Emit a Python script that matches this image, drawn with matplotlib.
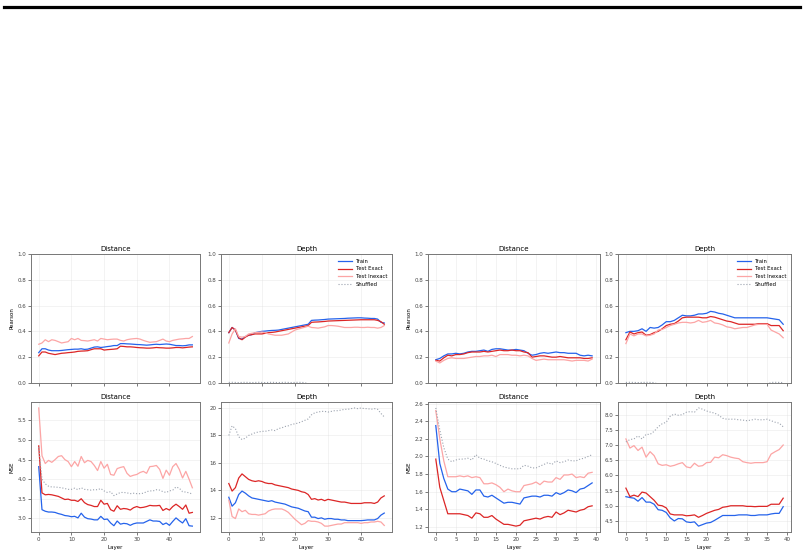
import numpy as np
import matplotlib
matplotlib.use("Agg")
import matplotlib.pyplot as plt
from matplotlib.lines import Line2D


# ---------------------------------------------------
# Data: model A (48 layers)
# ---------------------------------------------------

layers_a = list(range(48))

a_pearson_dist_train = [0.235, 0.265, 0.265, 0.255, 0.25, 0.25, 0.25, 0.252, 0.255, 0.258, 0.26, 0.262, 0.262, 0.265, 0.26, 0.262, 0.27, 0.278, 0.28, 0.275, 0.278, 0.282, 0.285, 0.29, 0.29, 0.305, 0.305, 0.303, 0.302, 0.3, 0.298, 0.297, 0.295, 0.293, 0.295, 0.298, 0.3, 0.298, 0.3, 0.302, 0.3, 0.295, 0.29, 0.29, 0.288, 0.29, 0.295, 0.295]
a_pearson_dist_exact = [0.21, 0.24, 0.24, 0.23, 0.225, 0.22, 0.225, 0.23, 0.232, 0.235, 0.237, 0.24, 0.245, 0.247, 0.248, 0.25, 0.258, 0.265, 0.265, 0.265, 0.255, 0.258, 0.26, 0.262, 0.265, 0.285, 0.283, 0.28, 0.28, 0.278, 0.275, 0.273, 0.272, 0.27, 0.27, 0.272, 0.275, 0.273, 0.272, 0.27, 0.27, 0.272, 0.275, 0.275, 0.272, 0.275, 0.278, 0.28]
a_pearson_dist_inexact = [0.30, 0.31, 0.335, 0.32, 0.335, 0.33, 0.32, 0.31, 0.315, 0.32, 0.345, 0.335, 0.345, 0.33, 0.328, 0.325, 0.33, 0.335, 0.325, 0.345, 0.34, 0.335, 0.338, 0.34, 0.34, 0.33, 0.325, 0.335, 0.34, 0.343, 0.345, 0.34, 0.33, 0.322, 0.315, 0.318, 0.32, 0.33, 0.34, 0.325, 0.32, 0.33, 0.335, 0.34, 0.342, 0.345, 0.345, 0.36]
a_pearson_dist_shuf = [-0.01, -0.012, -0.008, -0.01, -0.012, -0.01, -0.009, -0.011, -0.01, -0.012, -0.01, -0.011, -0.009, -0.01, -0.012, -0.01, -0.011, -0.01, -0.009, -0.01, -0.012, -0.01, -0.011, -0.01, -0.009, -0.01, -0.012, -0.01, -0.011, -0.01, -0.009, -0.01, -0.012, -0.01, -0.011, -0.01, -0.009, -0.01, -0.012, -0.01, -0.011, -0.01, -0.009, -0.01, -0.012, -0.01, -0.011, -0.01]

a_pearson_depth_train = [0.39, 0.43, 0.41, 0.345, 0.34, 0.36, 0.37, 0.375, 0.39, 0.395, 0.40, 0.402, 0.405, 0.407, 0.408, 0.41, 0.415, 0.42, 0.425, 0.43, 0.435, 0.44, 0.445, 0.45, 0.455, 0.485, 0.487, 0.488, 0.49, 0.492, 0.495, 0.496, 0.497, 0.498, 0.499, 0.50, 0.502, 0.503, 0.504, 0.505, 0.505, 0.503, 0.502, 0.50, 0.50, 0.495, 0.47, 0.465]
a_pearson_depth_exact = [0.39, 0.43, 0.41, 0.35, 0.335, 0.355, 0.37, 0.375, 0.38, 0.38, 0.38, 0.385, 0.39, 0.392, 0.395, 0.40, 0.405, 0.41, 0.415, 0.42, 0.425, 0.43, 0.435, 0.44, 0.445, 0.47, 0.472, 0.473, 0.475, 0.477, 0.48, 0.481, 0.482, 0.483, 0.484, 0.485, 0.486, 0.487, 0.488, 0.489, 0.49, 0.49, 0.49, 0.49, 0.49, 0.485, 0.475, 0.455]
a_pearson_depth_inexact = [0.31, 0.38, 0.42, 0.36, 0.355, 0.36, 0.38, 0.385, 0.39, 0.392, 0.395, 0.39, 0.38, 0.375, 0.37, 0.37, 0.37, 0.375, 0.38, 0.395, 0.41, 0.418, 0.425, 0.432, 0.44, 0.43, 0.428, 0.425, 0.43, 0.435, 0.445, 0.445, 0.443, 0.44, 0.435, 0.43, 0.43, 0.43, 0.432, 0.432, 0.43, 0.43, 0.432, 0.43, 0.43, 0.425, 0.43, 0.445]
a_pearson_depth_shuf = [0.004, 0.005, 0.004, 0.003, 0.004, 0.005, 0.004, 0.003, 0.004, 0.005, 0.004, 0.003, 0.004, 0.005, 0.004, 0.003, 0.004, 0.005, 0.004, 0.003, 0.004, 0.005, 0.004, 0.003, -0.01, -0.012, -0.01, -0.011, -0.01, -0.009, -0.01, -0.012, -0.01, -0.011, -0.01, -0.009, -0.01, -0.012, -0.01, -0.011, -0.01, -0.009, -0.01, -0.012, -0.01, -0.011, -0.01, -0.009]

a_mse_dist_train = [4.32, 3.22, 3.18, 3.16, 3.16, 3.15, 3.12, 3.10, 3.07, 3.06, 3.04, 3.05, 3.01, 3.13, 3.03, 2.99, 2.98, 2.96, 2.96, 3.05, 2.97, 2.98, 2.88, 2.81, 2.93, 2.85, 2.87, 2.86, 2.82, 2.86, 2.88, 2.88, 2.88, 2.92, 2.96, 2.93, 2.93, 2.92, 2.84, 2.88, 2.82, 2.92, 3.01, 2.94, 2.88, 2.99, 2.81, 2.80]
a_mse_dist_exact = [4.85, 3.65, 3.60, 3.61, 3.60, 3.58, 3.56, 3.52, 3.48, 3.49, 3.46, 3.46, 3.43, 3.50, 3.40, 3.35, 3.33, 3.30, 3.30, 3.46, 3.36, 3.38, 3.22, 3.18, 3.32, 3.23, 3.25, 3.24, 3.21, 3.27, 3.30, 3.27, 3.28, 3.30, 3.33, 3.32, 3.32, 3.33, 3.20, 3.25, 3.21, 3.30, 3.36, 3.30, 3.23, 3.34, 3.13, 3.15]
a_mse_dist_inexact = [5.82, 4.60, 4.40, 4.48, 4.43, 4.50, 4.58, 4.60, 4.50, 4.45, 4.32, 4.45, 4.33, 4.58, 4.42, 4.48, 4.45, 4.35, 4.22, 4.45, 4.28, 4.38, 4.12, 4.10, 4.27, 4.30, 4.32, 4.15, 4.07, 4.10, 4.12, 4.17, 4.20, 4.15, 4.32, 4.33, 4.35, 4.25, 4.02, 4.23, 4.10, 4.32, 4.40, 4.25, 4.03, 4.20, 4.00, 3.78]
a_mse_dist_shuf = [4.82, 4.00, 3.88, 3.82, 3.80, 3.80, 3.79, 3.78, 3.76, 3.74, 3.74, 3.77, 3.73, 3.78, 3.74, 3.73, 3.72, 3.73, 3.73, 3.76, 3.70, 3.66, 3.68, 3.58, 3.62, 3.66, 3.66, 3.65, 3.63, 3.64, 3.63, 3.63, 3.64, 3.68, 3.70, 3.70, 3.73, 3.72, 3.68, 3.66, 3.70, 3.72, 3.80, 3.77, 3.68, 3.67, 3.65, 3.62]

a_mse_depth_train = [13.5, 12.85, 13.1, 13.7, 13.95, 13.8, 13.6, 13.45, 13.4, 13.35, 13.3, 13.25, 13.2, 13.25, 13.15, 13.1, 13.05, 13.0, 12.9, 12.8, 12.75, 12.7, 12.6, 12.5, 12.45, 12.05, 12.05, 11.95, 12.0, 11.9, 11.95, 11.95, 11.9, 11.9, 11.85, 11.85, 11.8, 11.8, 11.8, 11.8, 11.8, 11.82, 11.85, 11.85, 11.85, 11.95, 12.2, 12.35]
a_mse_depth_exact = [14.5, 13.95, 14.2, 14.9, 15.2, 15.0, 14.8, 14.7, 14.65, 14.7, 14.65, 14.55, 14.5, 14.5, 14.4, 14.35, 14.3, 14.25, 14.2, 14.1, 14.05, 14.0, 13.9, 13.85, 13.7, 13.35, 13.4, 13.3, 13.35, 13.25, 13.35, 13.3, 13.25, 13.2, 13.15, 13.15, 13.1, 13.05, 13.05, 13.05, 13.05, 13.1, 13.1, 13.1, 13.05, 13.15, 13.45, 13.6]
a_mse_depth_inexact = [13.3, 12.1, 11.95, 12.65, 12.45, 12.55, 12.3, 12.25, 12.25, 12.2, 12.25, 12.3, 12.5, 12.6, 12.65, 12.65, 12.65, 12.55, 12.4, 12.15, 11.9, 11.7, 11.5, 11.6, 11.8, 11.75, 11.75, 11.7, 11.6, 11.4, 11.4, 11.45, 11.5, 11.55, 11.55, 11.65, 11.65, 11.65, 11.65, 11.65, 11.6, 11.65, 11.65, 11.7, 11.7, 11.75, 11.7, 11.45]
a_mse_depth_shuf = [18.0, 18.7, 18.5, 17.9, 17.7, 17.8, 18.0, 18.1, 18.2, 18.25, 18.3, 18.3, 18.35, 18.4, 18.35, 18.5, 18.55, 18.65, 18.7, 18.8, 18.85, 18.9, 19.0, 19.1, 19.2, 19.5, 19.65, 19.7, 19.75, 19.75, 19.7, 19.75, 19.8, 19.8, 19.85, 19.9, 19.9, 19.95, 20.0, 19.95, 20.0, 19.95, 19.95, 19.9, 19.95, 19.9, 19.6, 19.35]


# ---------------------------------------------------
# Data: model B (40 layers)
# ---------------------------------------------------

layers_b = list(range(40))

b_pearson_dist_train = [0.18, 0.19, 0.21, 0.225, 0.225, 0.23, 0.225, 0.23, 0.24, 0.245, 0.245, 0.25, 0.255, 0.245, 0.26, 0.265, 0.265, 0.26, 0.255, 0.255, 0.26, 0.255, 0.25, 0.23, 0.215, 0.22, 0.23, 0.235, 0.23, 0.235, 0.24, 0.235, 0.235, 0.23, 0.23, 0.23, 0.215, 0.21, 0.215, 0.21]
b_pearson_dist_exact = [0.175, 0.17, 0.195, 0.215, 0.21, 0.22, 0.22, 0.225, 0.235, 0.24, 0.24, 0.24, 0.245, 0.24, 0.245, 0.25, 0.255, 0.25, 0.25, 0.255, 0.25, 0.25, 0.24, 0.235, 0.20, 0.205, 0.21, 0.21, 0.205, 0.20, 0.20, 0.205, 0.20, 0.195, 0.195, 0.195, 0.195, 0.19, 0.19, 0.195]
b_pearson_dist_inexact = [0.17, 0.155, 0.175, 0.19, 0.195, 0.19, 0.19, 0.19, 0.195, 0.20, 0.205, 0.205, 0.21, 0.21, 0.215, 0.205, 0.22, 0.22, 0.22, 0.215, 0.215, 0.21, 0.215, 0.21, 0.19, 0.175, 0.18, 0.185, 0.18, 0.18, 0.18, 0.18, 0.18, 0.175, 0.17, 0.175, 0.175, 0.175, 0.17, 0.185]
b_pearson_dist_shuf = [-0.01, -0.012, -0.01, -0.011, -0.01, -0.009, -0.01, -0.012, -0.01, -0.011, -0.01, -0.009, -0.01, -0.012, -0.01, -0.011, -0.01, -0.009, -0.01, -0.012, -0.01, -0.011, -0.01, -0.009, -0.01, -0.012, -0.01, -0.011, -0.01, -0.009, -0.01, -0.012, -0.01, -0.011, -0.01, -0.009, -0.01, -0.012, -0.01, -0.011]

b_pearson_depth_train = [0.39, 0.40, 0.40, 0.405, 0.42, 0.40, 0.43, 0.425, 0.43, 0.45, 0.475, 0.475, 0.485, 0.505, 0.525, 0.52, 0.52, 0.525, 0.535, 0.535, 0.54, 0.555, 0.55, 0.54, 0.535, 0.525, 0.515, 0.505, 0.505, 0.505, 0.505, 0.505, 0.505, 0.505, 0.505, 0.505, 0.50, 0.495, 0.49, 0.455]
b_pearson_depth_exact = [0.335, 0.395, 0.38, 0.39, 0.395, 0.37, 0.375, 0.39, 0.40, 0.42, 0.445, 0.455, 0.46, 0.48, 0.505, 0.51, 0.51, 0.51, 0.51, 0.505, 0.505, 0.515, 0.51, 0.50, 0.49, 0.48, 0.475, 0.465, 0.455, 0.455, 0.455, 0.455, 0.455, 0.46, 0.46, 0.46, 0.445, 0.445, 0.445, 0.405]
b_pearson_depth_inexact = [0.305, 0.38, 0.365, 0.38, 0.38, 0.365, 0.37, 0.38, 0.41, 0.415, 0.43, 0.445, 0.455, 0.465, 0.47, 0.47, 0.465, 0.47, 0.485, 0.47, 0.475, 0.485, 0.465, 0.46, 0.45, 0.435, 0.43, 0.42, 0.425, 0.43, 0.43, 0.44, 0.45, 0.455, 0.455, 0.455, 0.41, 0.395, 0.38, 0.35]
b_pearson_depth_shuf = [0.004, 0.005, 0.004, 0.003, 0.004, 0.005, 0.004, 0.003, -0.01, -0.012, -0.01, -0.011, -0.01, -0.009, -0.01, -0.012, -0.01, -0.011, -0.01, -0.009, -0.01, -0.012, -0.01, -0.011, -0.01, -0.009, -0.01, -0.012, -0.01, -0.011, -0.01, -0.009, -0.01, -0.012, -0.01, -0.011, 0.004, 0.005, 0.004, 0.003]

b_mse_dist_train = [2.35, 1.92, 1.75, 1.63, 1.60, 1.60, 1.63, 1.62, 1.61, 1.57, 1.62, 1.62, 1.55, 1.54, 1.56, 1.53, 1.50, 1.47, 1.48, 1.48, 1.47, 1.46, 1.53, 1.54, 1.55, 1.55, 1.54, 1.56, 1.56, 1.55, 1.59, 1.57, 1.59, 1.62, 1.61, 1.59, 1.63, 1.64, 1.67, 1.70]
b_mse_dist_exact = [1.97, 1.65, 1.50, 1.35, 1.35, 1.35, 1.35, 1.34, 1.33, 1.30, 1.36, 1.35, 1.31, 1.31, 1.33, 1.29, 1.26, 1.23, 1.23, 1.22, 1.21, 1.22, 1.27, 1.28, 1.29, 1.30, 1.29, 1.31, 1.32, 1.31, 1.37, 1.34, 1.36, 1.39, 1.38, 1.37, 1.39, 1.40, 1.43, 1.44]
b_mse_dist_inexact = [2.52, 2.20, 1.95, 1.77, 1.77, 1.77, 1.78, 1.77, 1.78, 1.76, 1.77, 1.76, 1.69, 1.69, 1.70, 1.68, 1.65, 1.60, 1.63, 1.61, 1.60, 1.60, 1.67, 1.68, 1.69, 1.71, 1.68, 1.72, 1.71, 1.71, 1.76, 1.74, 1.79, 1.79, 1.80, 1.76, 1.77, 1.76, 1.81, 1.82]
b_mse_dist_shuf = [2.55, 2.30, 2.10, 1.97, 1.94, 1.96, 1.97, 1.97, 1.98, 1.96, 2.02, 1.98, 1.97, 1.95, 1.94, 1.92, 1.90, 1.88, 1.87, 1.86, 1.86, 1.86, 1.90, 1.89, 1.87, 1.87, 1.89, 1.91, 1.93, 1.91, 1.95, 1.93, 1.94, 1.96, 1.95, 1.95, 1.97, 1.98, 2.00, 2.02]

b_mse_depth_train = [5.30, 5.27, 5.25, 5.15, 5.27, 5.12, 5.12, 5.05, 4.87, 4.85, 4.78, 4.60, 4.50, 4.58, 4.57, 4.47, 4.45, 4.47, 4.33, 4.38, 4.43, 4.45, 4.52, 4.60, 4.68, 4.68, 4.68, 4.68, 4.70, 4.70, 4.70, 4.68, 4.68, 4.70, 4.70, 4.70, 4.73, 4.75, 4.75, 4.97]
b_mse_depth_exact = [5.58, 5.30, 5.35, 5.30, 5.45, 5.42, 5.30, 5.18, 5.02, 5.00, 4.93, 4.73, 4.70, 4.70, 4.70, 4.67, 4.68, 4.70, 4.62, 4.68, 4.75, 4.80, 4.85, 4.88, 4.95, 4.97, 5.00, 5.00, 5.00, 5.00, 4.98, 4.98, 4.97, 4.98, 4.98, 4.98, 5.05, 5.05, 5.05, 5.25]
b_mse_depth_inexact = [7.20, 6.90, 6.98, 6.82, 6.93, 6.60, 6.78, 6.65, 6.38, 6.33, 6.35, 6.30, 6.33, 6.38, 6.42, 6.28, 6.25, 6.40, 6.30, 6.32, 6.42, 6.43, 6.60, 6.58, 6.68, 6.65, 6.60, 6.57, 6.55, 6.45, 6.42, 6.40, 6.42, 6.42, 6.42, 6.45, 6.70, 6.78, 6.85, 7.00]
b_mse_depth_shuf = [7.10, 7.18, 7.20, 7.30, 7.20, 7.35, 7.35, 7.45, 7.60, 7.70, 7.75, 7.95, 8.02, 7.98, 8.00, 8.08, 8.10, 8.08, 8.22, 8.18, 8.12, 8.08, 8.05, 7.98, 7.88, 7.85, 7.85, 7.85, 7.83, 7.82, 7.80, 7.82, 7.85, 7.83, 7.83, 7.85, 7.80, 7.75, 7.72, 7.60]


# ---------------------------------------------------
# Styling
# ---------------------------------------------------

C_TRAIN = "#2563eb"
C_EXACT = "#dc2626"
C_INEXACT = "#fca5a5"
C_SHUF = "#9ca3af"

FS_TICK = 4
FS_TITLE = 5


def draw_panel(ax, x, train, exact, inexact, shuf, title, ylabel=None,
               xlabel=None, pearson=False, legend=False):

    ax.plot(x, train, color=C_TRAIN, lw=0.9, label="Train")
    ax.plot(x, exact, color=C_EXACT, lw=0.9, label="Test Exact")
    ax.plot(x, inexact, color=C_INEXACT, lw=0.9, label="Test Inexact")
    ax.plot(x, shuf, color=C_SHUF, lw=0.8, ls=":", label="Shuffled")

    if pearson:
        ax.set_ylim(0, 1)
        ax.set_xticklabels([])

    ax.set_title(title, fontsize=FS_TITLE, pad=2)
    if ylabel:
        ax.set_ylabel(ylabel, fontsize=FS_TICK, labelpad=2)
    if xlabel:
        ax.set_xlabel(xlabel, fontsize=FS_TICK, labelpad=2)

    ax.tick_params(labelsize=FS_TICK, length=2, width=0.5, pad=1.5,
                   colors="#444444")
    ax.grid(True, color="#dddddd", lw=0.4, alpha=0.6)
    for sp in ax.spines.values():
        sp.set_color("#777777")
        sp.set_linewidth(0.7)

    if legend:
        ax.legend(fontsize=3.8, frameon=False, loc="upper right",
                  handlelength=2.5, labelspacing=0.5)


# ---------------------------------------------------
# Figure
# ---------------------------------------------------

fig = plt.figure(figsize=(8.04, 5.55), dpi=100)

fig.add_artist(Line2D([0.005, 0.995], [0.9874, 0.9874], color="black",
                      lw=2.3, transform=fig.transFigure))

lefts = [0.0386, 0.2749, 0.5323, 0.7687]
widths = [0.2102, 0.2127, 0.2139, 0.2152]
top_b, top_h = 0.310, 0.2324
bot_b, bot_h = 0.0414, 0.2342

axs_top = [fig.add_axes([l, top_b, w, top_h]) for l, w in zip(lefts, widths)]
axs_bot = [fig.add_axes([l, bot_b, w, bot_h]) for l, w in zip(lefts, widths)]

draw_panel(axs_top[0], layers_a, a_pearson_dist_train, a_pearson_dist_exact,
           a_pearson_dist_inexact, a_pearson_dist_shuf, "Distance",
           ylabel="Pearson", pearson=True)
draw_panel(axs_top[1], layers_a, a_pearson_depth_train, a_pearson_depth_exact,
           a_pearson_depth_inexact, a_pearson_depth_shuf, "Depth",
           pearson=True, legend=True)
draw_panel(axs_top[2], layers_b, b_pearson_dist_train, b_pearson_dist_exact,
           b_pearson_dist_inexact, b_pearson_dist_shuf, "Distance",
           ylabel="Pearson", pearson=True)
draw_panel(axs_top[3], layers_b, b_pearson_depth_train, b_pearson_depth_exact,
           b_pearson_depth_inexact, b_pearson_depth_shuf, "Depth",
           pearson=True, legend=True)

draw_panel(axs_bot[0], layers_a, a_mse_dist_train, a_mse_dist_exact,
           a_mse_dist_inexact, a_mse_dist_shuf, "Distance",
           ylabel="MSE", xlabel="Layer")
draw_panel(axs_bot[1], layers_a, a_mse_depth_train, a_mse_depth_exact,
           a_mse_depth_inexact, a_mse_depth_shuf, "Depth", xlabel="Layer")
draw_panel(axs_bot[2], layers_b, b_mse_dist_train, b_mse_dist_exact,
           b_mse_dist_inexact, b_mse_dist_shuf, "Distance",
           ylabel="MSE", xlabel="Layer")
draw_panel(axs_bot[3], layers_b, b_mse_depth_train, b_mse_depth_exact,
           b_mse_depth_inexact, b_mse_depth_shuf, "Depth", xlabel="Layer")

# share x ticks between rows
for t, b in zip(axs_top, axs_bot):
    t.set_xlim(b.get_xlim())
    t.set_xticks(b.get_xticks())
    t.set_xlim(b.get_xlim())
    t.set_xticklabels([])

fig.savefig("out.png", dpi=100)
